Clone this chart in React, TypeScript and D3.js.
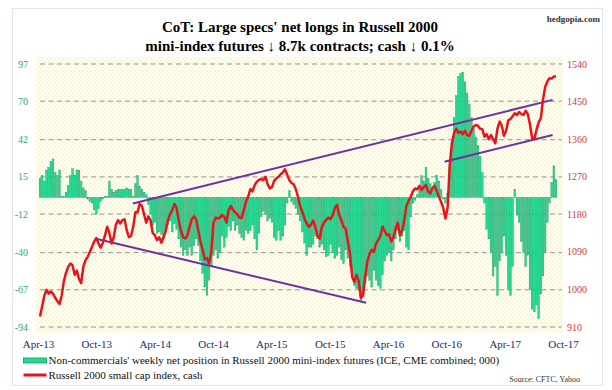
import * as d3 from "d3";

// weekly CoT net position (000 contracts), Tuesdays from 2013-03-26
const netPosition = [
  14, 16, 12, 20, 22, 26, 28, 18, 16, 20, 1, 1, 4, 9, 16, 21, 16, 20, 20, 12,
  7, 5, -1, -3, -4, -9, -12, -8, -3, -1, 1, 1, 12, 6, 4, 5, 6, 6, 6, 6,
  7, 6, 6, 1, 10, 16, 8, 6, 4, 2, -5, -12, -20, -18, -26, -25, -27, -30, -24, -20,
  -17, -25, -19, -23, -30, -36, -42, -38, -42, -36, -42, -35, -30, -35, -46, -55, -65, -71, -60, -50,
  -42, -38, -44, -40, -28, -36, -29, -21, -24, -17, -24, -20, -26, -29, -31, -24, -26, -24, -20, -30,
  -38, -26, -14, -10, -12, -17, -15, -18, -29, -31, -24, -31, -28, -20, -4, 5, -3, -5, -8, -12,
  -17, -25, -33, -42, -36, -36, -34, -28, -30, -36, -34, -38, -43, -42, -34, -40, -44, -42, -36, -45,
  -48, -38, -44, -50, -58, -64, -66, -67, -76, -72, -62, -57, -60, -65, -53, -60, -64, -66, -56, -46,
  -42, -40, -46, -38, -30, -24, -32, -28, -24, -36, -38, -14, -4, -2, 2, 8, 16, 12, 22, 14,
  10, 6, 11, 16, 12, 6, -1, -4, 3, 22, 40, 58, 74, 88, 90, 91, 84, 76, 68, 58,
  50, 44, 38, 30, 18, -4, -23, -30, -40, -57, -50, -71, -46, -40, -28, -42, -67, -71, -50, 6,
  -13, -18, -32, -40, -50, -42, -67, -81, -83, -78, -88, -70, -57, -40, -18, -4, 11, 23, 13,
];

// Russell 2000 cash, same weeks
const russell = [
  935, 960, 985, 999, 990, 995, 990, 980, 972, 965, 985, 1020, 1040, 1054, 1062, 1058, 1035, 1045, 1025, 1015,
  1055, 1070, 1078, 1090, 1102, 1115, 1123, 1110, 1100, 1112, 1130, 1150, 1135, 1110, 1125, 1155, 1166, 1158, 1166, 1168,
  1142, 1125, 1128, 1150, 1185, 1185, 1205, 1200, 1180, 1160, 1175, 1165, 1135, 1130, 1118, 1125, 1112, 1125, 1140, 1166,
  1180, 1190, 1205, 1195, 1165, 1140, 1125, 1122, 1130, 1150, 1168, 1175, 1168, 1142, 1115, 1095, 1072, 1075, 1062, 1090,
  1160, 1172, 1170, 1172, 1178, 1174, 1160, 1190, 1200, 1190, 1185, 1180, 1172, 1172, 1190, 1210, 1222, 1240, 1235, 1250,
  1258, 1262, 1265, 1262, 1270, 1252, 1242, 1245, 1260, 1266, 1270, 1276, 1280, 1288, 1275, 1262, 1255, 1252, 1240, 1222,
  1200, 1185, 1170, 1158, 1150, 1155, 1165, 1150, 1128, 1122, 1150, 1160, 1166, 1172, 1168, 1178, 1195, 1202, 1178, 1166,
  1150, 1145, 1115, 1085, 1030, 1018, 1035, 1020, 980, 985, 1030, 1068, 1085, 1095, 1090, 1110, 1118, 1128, 1150, 1140,
  1130, 1132, 1115, 1125, 1145, 1160, 1130, 1140, 1165, 1200, 1212, 1222, 1235, 1242, 1240, 1248, 1238, 1245, 1250, 1235,
  1230, 1243, 1248, 1236, 1222, 1210, 1195, 1170, 1195, 1300, 1350, 1375, 1385, 1375, 1378, 1372, 1380, 1370, 1368, 1380,
  1390, 1394, 1392, 1385, 1384, 1366, 1372, 1360, 1370, 1360, 1350, 1385, 1402, 1392, 1368, 1380, 1405, 1408, 1415, 1422,
  1418, 1425, 1420, 1418, 1428, 1420, 1395, 1362, 1360, 1382, 1400, 1410, 1455, 1485, 1498, 1506, 1505, 1510, 1510,
];

const xLabels = ["Apr-13", "Oct-13", "Apr-14", "Oct-14", "Apr-15", "Oct-15", "Apr-16", "Oct-16", "Apr-17", "Oct-17"];
const leftTicks = [97, 70, 42, 15, -12, -40, -67, -94];
const rightTicks = [1540, 1450, 1360, 1270, 1180, 1090, 1000, 910];

// hand-drawn trend lines on the index (date, index level)
const trendLines = [
  [["2014-01-20", 1206], ["2017-10-06", 1454]],
  [["2013-09-19", 1122], ["2016-02-12", 968]],
  [["2016-10-22", 1306], ["2017-10-06", 1370]],
];

const startDate = new Date(2013, 2, 26);
const weeks = netPosition.map((_, i) => d3.timeDay.offset(startDate, i * 7));

const W = 612;
const H = 390;
const plotLeft = 40, plotRight = 556, plotTop = 64, plotBottom = 327;
const serif = "'Liberation Serif', 'Times New Roman', serif";

export default function App() {
  const x = d3.scaleTime([weeks[0], weeks[weeks.length - 1]], [plotLeft, plotRight]);
  const yL = d3.scaleLinear([-94, 97], [plotBottom, plotTop]);
  const yR = d3.scaleLinear([910, 1540], [plotBottom, plotTop]);
  const xl = d3.scalePoint(xLabels, [38.5, 563.5]);
  const parse = d3.timeParse("%Y-%m-%d");

  const line = d3
    .line<number>()
    .x((_, i) => x(weeks[i]))
    .y((d) => yR(d));

  const barW = 1.7;

  return (
    <svg width={W} height={H} style={{ position: "absolute", left: 0, top: 0, background: "#fff" }} fontFamily={serif}>
      <defs>
        <pattern id="dots" width="4" height="4" patternUnits="userSpaceOnUse">
          <rect width="4" height="4" fill="#fffef6" />
          <circle cx="1" cy="1" r="0.8" fill="#f4eeb4" />
          <circle cx="3" cy="3" r="0.8" fill="#f4eeb4" />
        </pattern>
      </defs>
      <rect x={12.5} y={8.5} width={590} height={377} fill="#fff" stroke="#dfe5ec" />
      <rect x={36} y={57} width={527} height={276} fill="url(#dots)" />

      {/* title */}
      <text x={300} y={32} textAnchor="middle" fontSize={15} fontWeight="bold">
        CoT: Large specs' net longs in Russell 2000
      </text>
      <text x={300} y={51} textAnchor="middle" fontSize={15} fontWeight="bold">
        mini-index futures ↓ 8.7k contracts; cash ↓ 0.1%
      </text>
      <text x={600} y={22} textAnchor="end" fontSize={9} fontWeight="bold" fill="#333">
        hedgopia.com
      </text>

      {/* grid + axes */}
      {leftTicks.map((t) => (
        <line key={t} x1={plotLeft} x2={562} y1={yL(t)} y2={yL(t)} stroke="#7a7a7a" strokeWidth={0.8} strokeDasharray="5 3.5" />
      ))}
      {leftTicks.map((t) => (
        <text key={t} x={28} y={yL(t)} dy="0.35em" textAnchor="end" fontSize={10} fill="#2aa57a">
          {t}
        </text>
      ))}
      {rightTicks.map((t) => (
        <text key={t} x={567} y={yR(t)} dy="0.35em" textAnchor="start" fontSize={10} fill="#d23a3a">
          {t}
        </text>
      ))}
      {xLabels.map((l) => (
        <text key={l} x={xl(l)} y={348} textAnchor="middle" fontSize={11} fill="#1c2b66">
          {l}
        </text>
      ))}

      {/* bars */}
      {netPosition.map((v, i) => (
        <rect
          key={i}
          x={x(weeks[i]) - barW / 2}
          y={Math.min(yL(0), yL(v))}
          width={barW}
          height={Math.abs(yL(v) - yL(0))}
          fill="#28d892"
          stroke="#10995e"
          strokeWidth={0.35}
        />
      ))}

      {/* trend lines */}
      {trendLines.map((tl, k) => (
        <line
          key={k}
          x1={x(parse(tl[0][0] as string)!)}
          y1={yR(tl[0][1] as number)}
          x2={x(parse(tl[1][0] as string)!)}
          y2={yR(tl[1][1] as number)}
          stroke="#7030a0"
          strokeWidth={2}
        />
      ))}

      {/* index */}
      <path d={line(russell) ?? ""} fill="none" stroke="#e8141b" strokeWidth={2.5} strokeLinejoin="round" />

      {/* legend */}
      <rect x={23.5} y={358} width={23} height={5} fill="#28d892" stroke="#10995e" strokeWidth={0.8} />
      <text x={48.5} y={364} fontSize={11} fill="#111">
        Non-commercials' weekly net position in Russell 2000 mini-index futures (ICE, CME combined; 000)
      </text>
      <line x1={23.5} x2={46.5} y1={375} y2={375} stroke="#e8141b" strokeWidth={3} />
      <text x={48.5} y={379} fontSize={11} fill="#111">
        Russell 2000 small cap index, cash
      </text>
      <text x={580} y={382} textAnchor="end" fontSize={8} fill="#333">
        Source: CFTC, Yahoo
      </text>
    </svg>
  );
}
